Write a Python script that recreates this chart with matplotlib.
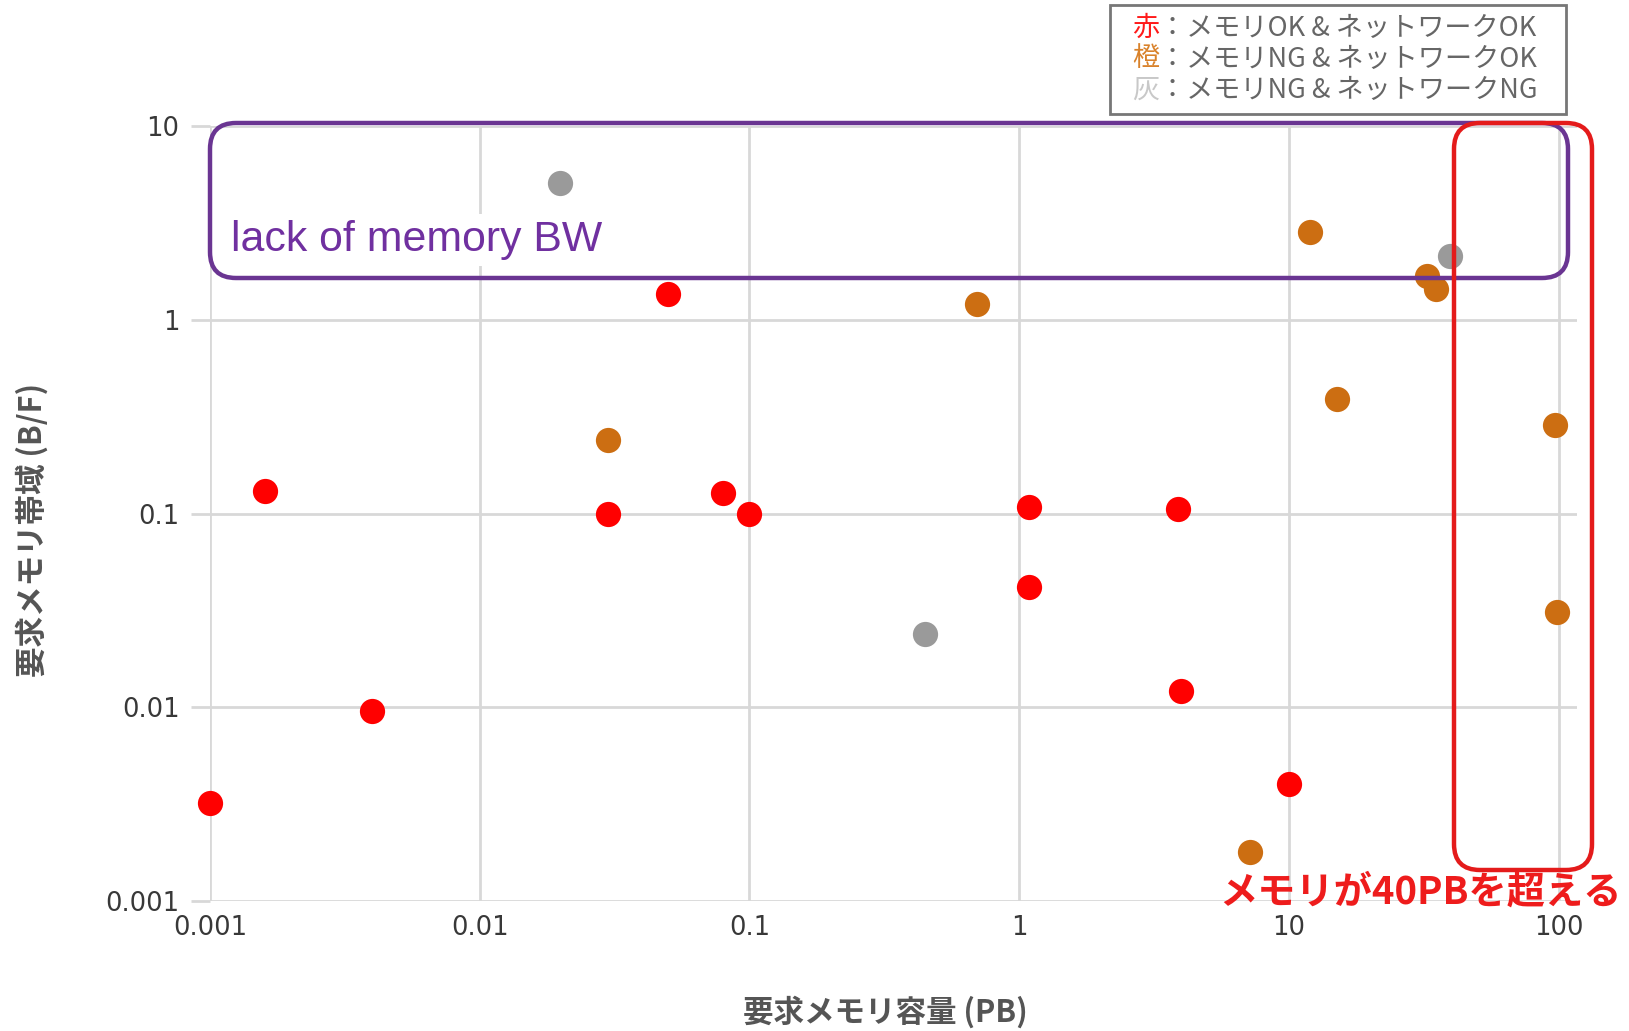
import matplotlib.pyplot as plt
from matplotlib.patches import FancyBboxPatch, Rectangle

plt.rcParams['font.family'] = ['Noto Sans CJK JP', 'DejaVu Sans']

# 赤: memory OK & network OK
red_x = [0.001, 0.0016, 0.004, 0.03, 0.05, 0.08, 0.1, 1.09, 1.09, 3.89, 3.97, 10]
red_y = [0.0032, 0.13, 0.0096, 0.099, 1.35, 0.128, 0.099, 0.108, 0.0416, 0.105, 0.0121, 0.0040]
# 橙: memory NG & network OK
orange_x = [0.03, 0.70, 12.0, 32.4, 35.1, 15.1, 96.6, 99, 7.18]
orange_y = [0.24, 1.21, 2.84, 1.69, 1.44, 0.389, 0.286, 0.031, 0.00179]
# 灰: memory NG & network NG
grey_x = [0.0199, 0.447, 39.7]
grey_y = [5.07, 0.0239, 2.14]

ticks = [0.001, 0.01, 0.1, 1, 10, 100]
tick_labels = ["0.001", "0.01", "0.1", "1", "10", "100"]
y_ticks = [0.001, 0.01, 0.1, 1, 10]
y_tick_labels = ["0.001", "0.01", "0.1", "1", "10"]

legend_lines = [("赤", "：メモリOK & ネットワークOK", "#ff1a1a"),
                ("橙", "：メモリNG & ネットワークOK", "#d9822b"),
                ("灰", "：メモリNG & ネットワークNG", "#c8c8c8")]

W, H = 1629, 1031
fig = plt.figure(figsize=(W / 100, H / 100), dpi=100)
ax = fig.add_axes([210 / W, 1 - 901 / H, 1367 / W, 775 / H])

ax.scatter(red_x, red_y, s=330, color="#ff0000", zorder=3, linewidths=0, clip_on=False)
ax.scatter(orange_x, orange_y, s=330, color="#cc6e12", zorder=3, linewidths=0, clip_on=False)
ax.scatter(grey_x, grey_y, s=330, color="#9a9a9a", zorder=3, linewidths=0, clip_on=False)

ax.set_xscale("log")
ax.set_yscale("log")
ax.set_xlim(0.001, 117)
ax.set_ylim(0.001, 10)
ax.set_xticks(ticks, tick_labels)
ax.set_yticks(y_ticks, y_tick_labels)
ax.minorticks_off()
for s in ax.spines.values():
    s.set_visible(False)
ax.grid(True, color="#d8d8d8", linewidth=2)
ax.set_axisbelow(True)
ax.tick_params(axis="x", length=0, pad=10, labelsize=18.5, labelcolor="#383838")
ax.tick_params(axis="y", length=14, width=2, color="#d8d8d8", pad=8, labelsize=18.5, labelcolor="#383838")
for lab in ax.get_xticklabels() + ax.get_yticklabels():
    lab.set_family("DejaVu Sans")

ax.set_xlabel("要求メモリ容量 (PB)", fontsize=22, color="#555555", fontweight="bold")
ax.set_ylabel("要求メモリ帯域 (B/F)", fontsize=22, color="#555555", fontweight="bold")
ax.xaxis.set_label_coords(0.494, -0.122)
ax.yaxis.set_label_coords(-0.118, 0.479)


def px_box(x0, y0, x1, y1, color, r=26, lw=3.2):
    # pixel coords measured from top-left of the picture
    box = FancyBboxPatch((x0 / W, 1 - y1 / H), (x1 - x0) / W, (y1 - y0) / H,
                         boxstyle="round,pad=0,rounding_size=%f" % (r / W),
                         mutation_aspect=W / H, transform=fig.transFigure,
                         facecolor="none", edgecolor=color, linewidth=lw,
                         clip_on=False, zorder=5)
    fig.add_artist(box)


fig.text(231 / W, 1 - 240 / H, "lack of memory BW", fontsize=30.8, color="#7030a0",
         family=["Liberation Sans", "DejaVu Sans"], va="center", ha="left", zorder=4,
         bbox=dict(facecolor="white", edgecolor="none", pad=4))
px_box(210, 123, 1568, 278, "#6a3592")
px_box(1454, 123, 1592, 870, "#e41b1b")
fig.text(1622 / W, 1 - 892 / H, "メモリが40PBを超える", fontsize=27.5, color="#ee1c1c",
         fontweight="bold", ha="right", va="center", zorder=6)

# legend-like note box at the top right
fig.add_artist(Rectangle((1110 / W, 1 - 114 / H), 456 / W, 109 / H, transform=fig.transFigure,
                         facecolor="white", edgecolor="#777777", linewidth=2, zorder=6))
fs = 19.5
for i, (c, rest, col) in enumerate(legend_lines):
    yy = 1 - (28 + 31 * i) / H
    fig.text(1132 / W, yy, c, fontsize=fs, color=col, va="center", ha="left", zorder=7)
    fig.text(1132 / W + fs * 100 / 72 / W, yy, rest, fontsize=fs, color="#666666",
             va="center", ha="left", zorder=7)

fig.savefig("out.png", dpi=100)
